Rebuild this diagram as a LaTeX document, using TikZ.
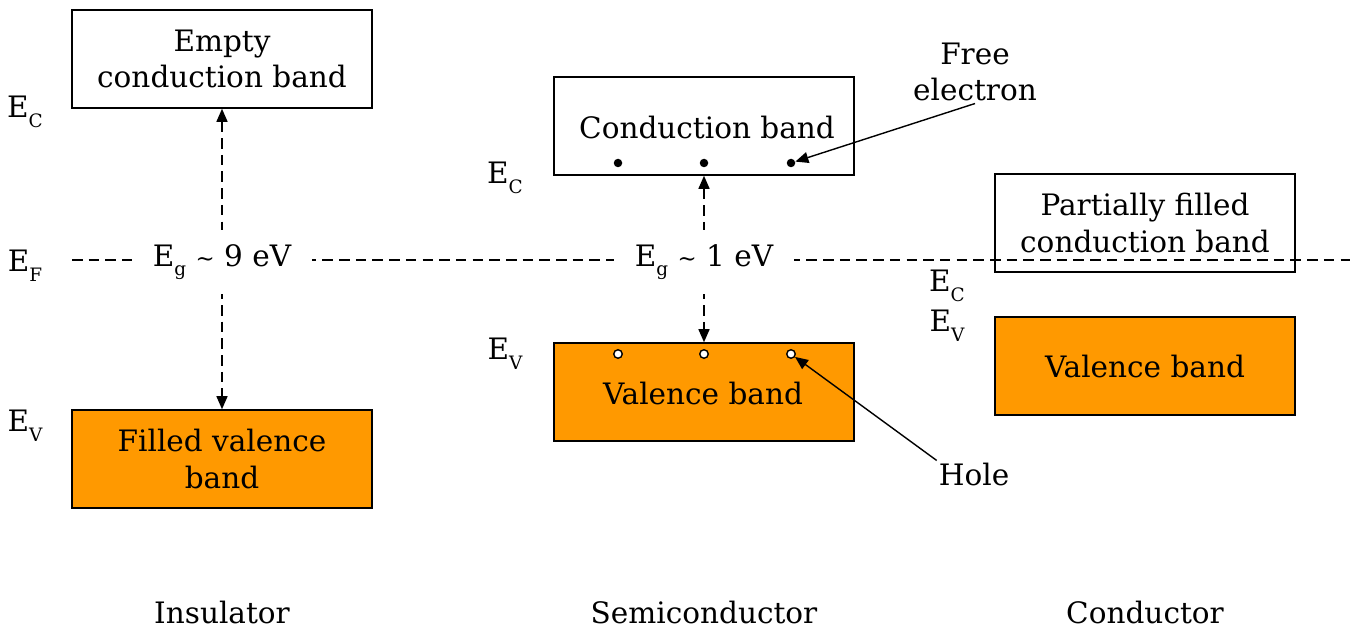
\documentclass[tikz,border=0pt]{standalone}
\usepackage{fontspec}
\setmainfont{DejaVu Serif}
\usetikzlibrary{arrows.meta,positioning}
\definecolor{bandOrange}{RGB}{255,153,0}
\newcommand{\lvl}[1]{E\raisebox{-5.5pt}{\fontsize{10.5}{10.5}\selectfont #1}}

\begin{document}
\begin{tikzpicture}[x=0.02cm, y=-0.02cm,
  every node/.style={font=\fontsize{16.8}{21}\selectfont},
  band/.style={draw=black, line width=0.9pt, minimum width=6cm, minimum height=1.96cm, align=center, inner sep=0pt},
  fullband/.style={band, fill=bandOrange},
  gaparrow/.style={line width=0.8pt, dash pattern=on 6pt off 3.5pt, {Triangle[length=2.6mm,width=2.2mm]}-{Triangle[length=2.6mm,width=2.2mm]}},
  gaplabel/.style={fill=white, inner xsep=0.42cm, inner ysep=0.28cm},
  electron/.style={circle, fill=black, inner sep=0pt, minimum size=0.17cm},
  hole/.style={circle, draw=black, fill=white, line width=0.8pt, inner sep=0pt, minimum size=0.17cm},
  pointer/.style={line width=0.8pt, -{Triangle[length=2.6mm,width=2.2mm]}}]
\useasboundingbox (0,0) rectangle (1355,628);

% insulator
\node[band] (ins-cb) at (222,59) {Empty\\conduction band};
\node[fullband] (ins-vb) at (222,459) {Filled valence\\band};

% semiconductor
\node[band] (sem-cb) at (704,126) {};
\node (sem-cbtxt) at (707,127) {Conduction band};
\node[fullband] (sem-vb) at (704,392) {};
\node (sem-vbtxt) at (703,393) {Valence band};
\foreach \x [count=\i] in {618,704,791} {
  \node[electron] (e\i) at (\x,163) {};
  \node[hole] (h\i) at (\x,354) {};
}

% conductor
\node[band] (con-cb) at (1145,223) {Partially filled\\conduction band};
\node[fullband] (con-vb) at (1145,366) {Valence band};

% fermi level
\coordinate (ef-l) at (72,260);
\coordinate (ef-r) at (1350,260);
\draw[line width=0.8pt, dash pattern=on 6pt off 3.5pt] (ef-l) -- (ef-r);

\draw[gaparrow] (ins-cb.south) -- (ins-vb.north);
\draw[gaparrow] (sem-cb.south) -- (sem-vb.north);
\node[gaplabel] (ins-eg) at (222,262) {\lvl{g} {\fontsize{13}{13}\selectfont\textasciitilde} 9 eV};
\node[gaplabel] (sem-eg) at (704,262) {\lvl{g} {\fontsize{13}{13}\selectfont\textasciitilde} 1 eV};

\node (ins-ec) at (25,112) {\lvl{C}};
\node (ins-ef) at (25,266) {\lvl{F}};
\node (ins-ev) at (25,426) {\lvl{V}};
\node (sem-ec) at (505,178) {\lvl{C}};
\node (sem-ev) at (505,354) {\lvl{V}};
\node (con-ec) at (947,286) {\lvl{C}};
\node (con-ev) at (947,326) {\lvl{V}};

\node[align=center, inner sep=1pt] (free) at (975,72) {Free\\electron};
\draw[pointer] (free.south) -- (e3);
\node[inner sep=1pt] (holelbl) at (974,474) {Hole};
\draw[pointer] (holelbl.north west) -- (h3);

\node (ins-name) at (222,612) {Insulator};
\node (sem-name) at (704,612) {Semiconductor};
\node (con-name) at (1145,612) {Conductor};
\end{tikzpicture}
\end{document}
